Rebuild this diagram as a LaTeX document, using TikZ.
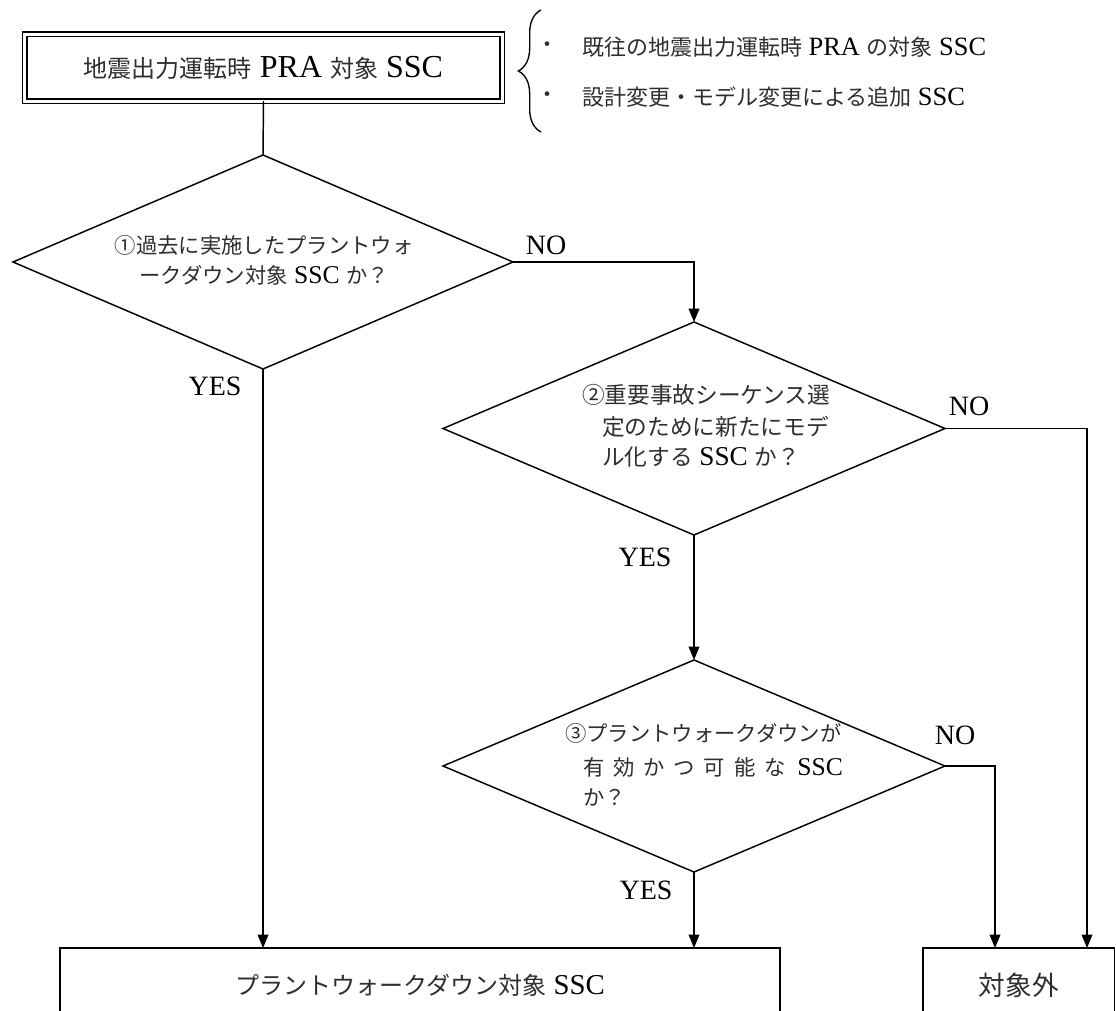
\documentclass[tikz,border=0pt]{standalone}
\usepackage{fontspec}
\setmainfont{Liberation Serif}[Scale=1.2]
\newfontfamily\cjk{Noto Sans CJK JP}
\usetikzlibrary{arrows.meta,shapes.geometric,decorations.pathreplacing}
\newcommand\J[1]{{\cjk\color{black!82}#1}}
\begin{document}
\begin{tikzpicture}[x=0.75pt,y=-0.75pt,
  conn/.style={line width=1.1pt},
  arr/.style={conn,-{Triangle[length=10pt,width=8pt]}},
  dia/.style={draw,diamond,line width=1.1pt,inner sep=0pt,outer sep=0pt},
  txt/.style={inner sep=0pt,outer sep=0pt},
  dtxt/.style={txt,anchor=base west,font=\fontsize{16}{19}\selectfont},
  yn/.style={txt,font=\fontsize{17.5}{20}\selectfont},
  endbox/.style={draw,line width=1.1pt,inner sep=0pt,outer sep=0pt,anchor=north west,minimum height=56pt},
]
\clip (0,0) rectangle (1116,1010);
\fill[white] (0,0) rectangle (1116,1010);

% top box
\node[draw,double,double distance=2.25pt,line width=1pt,minimum width=358pt,minimum height=50.25pt,
      inner sep=0pt,outer sep=0pt,font=\fontsize{20}{24}\selectfont] (top) at (263.5,67.5)
  {{\fontsize{18}{22}\selectfont\J{地震出力運転時}} PRA {\fontsize{18}{22}\selectfont\J{対象}} SSC};

% brace and notes
\draw[line width=1pt,decorate,decoration={brace,amplitude=17pt,aspect=0.5}] (541,132) -- (541,10);
\node[txt,font=\fontsize{16.5}{19}\selectfont] (b1) at (547,47) {\J{・}};
\node[txt,font=\fontsize{16.5}{19}\selectfont] (b2) at (547,97) {\J{・}};
\node[txt,anchor=base west,font=\fontsize{16.5}{19}\selectfont] (n1) at (582,55.5)
  {\J{既往の地震出力運転時} PRA \J{の対象} SSC};
\node[txt,anchor=base west,font=\fontsize{16.5}{19}\selectfont] (n2) at (582,105.5)
  {\J{設計変更・モデル変更による追加} SSC};

% diamonds
\node[dia,minimum width=375pt,minimum height=160.5pt] (d1) at (263,262) {};
\node[dia,minimum width=376.5pt,minimum height=159.75pt] (d2) at (694,428.5) {};
\node[dia,minimum width=376.5pt,minimum height=159pt] (d3) at (694,766) {};

% diamond texts
\node[dtxt,anchor=base] (d1a) at (264,253) {\J{①過去に実施したプラントウォ}};
\node[dtxt,anchor=base] (d1b) at (264,283) {\J{ークダウン対象} SSC \J{か？}};

\node[dtxt,font=\fontsize{17}{20}\selectfont] (d2a) at (582,403.6) {\J{②重要事故シーケンス選}};
\node[dtxt,font=\fontsize{17}{20}\selectfont] (d2b) at (602,435.6) {\J{定のために新たにモデ}};
\node[dtxt,font=\fontsize{17}{20}\selectfont] (d2c) at (602,465.6) {\J{ル化する} SSC \J{か？}};

\node[dtxt] (d3a) at (565,741) {\J{③プラントウォークダウンが}};
\node[dtxt] (d3b) at (583,775) {\makebox[195pt][s]{\J{有 効 か つ 可 能 な} SSC}};
\node[dtxt] (d3c) at (583,805) {\J{か？}};

% end boxes
\node[endbox,minimum width=540pt,font=\fontsize{18}{22}\selectfont] (pw) at (60,948)
  {\J{プラントウォークダウン対象} SSC};
\node[endbox,minimum width=143.6pt,font=\fontsize{20}{24}\selectfont] (out) at (923,948)
  {\J{対象外}};
\coordinate (outA) at (995,948);
\coordinate (outB) at (1087,948);

% connectors
\draw[conn] (top.south) -- (d1.north);
\draw[arr] (d1.east) -| (d2.north);
\draw[arr] (d1.south) -- (d1.south |- pw.north);
\draw[arr] (d2.east) -| (outB);
\draw[arr] (d2.south) -- (d3.north);
\draw[arr] (d3.east) -| (outA);
\draw[arr] (d3.south) -- (d3.south |- pw.north);

% labels
\node[yn] (no1) at (546,245) {NO};
\node[yn] (yes1) at (215,386) {YES};
\node[yn] (no2) at (969,406) {NO};
\node[yn] (yes2) at (645,557) {YES};
\node[yn] (no3) at (955,735) {NO};
\node[yn] (yes3) at (646,890) {YES};
\end{tikzpicture}
\end{document}
